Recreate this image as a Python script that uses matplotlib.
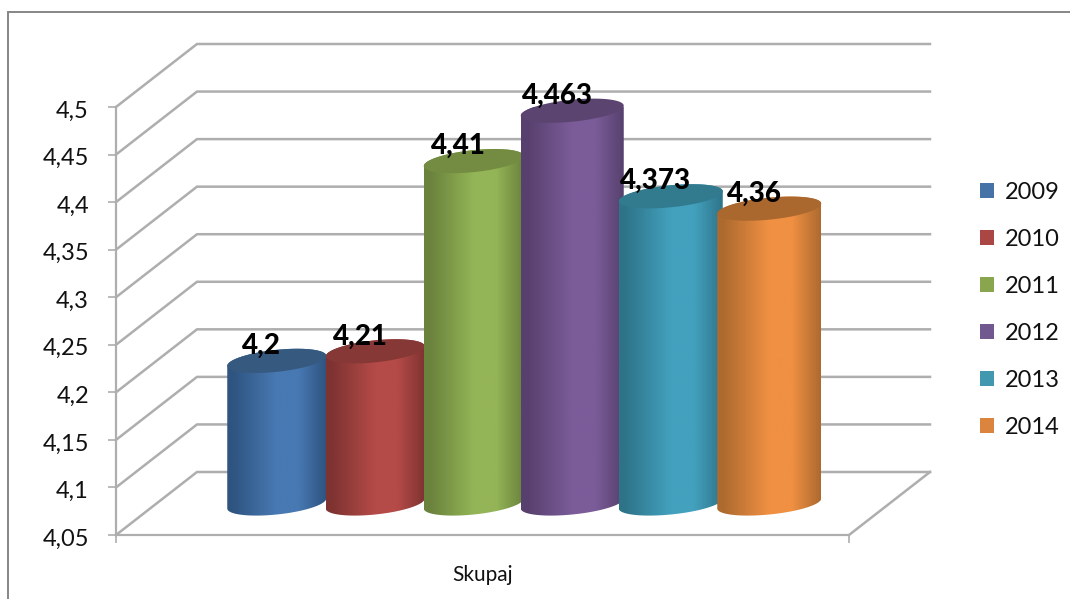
import numpy as np
import matplotlib
matplotlib.use("Agg")
import matplotlib.pyplot as plt
from matplotlib.colors import LinearSegmentedColormap
from matplotlib.lines import Line2D
from matplotlib.patches import PathPatch, Patch
from matplotlib.path import Path
from matplotlib.transforms import Affine2D

plt.rcParams['font.family'] = ['Lato', 'DejaVu Sans']

# ---- data ----
category = "Skupaj"
years = ["2009", "2010", "2011", "2012", "2013", "2014"]
values = [4.2, 4.21, 4.41, 4.463, 4.373, 4.36]
value_labels = ["4,2", "4,21", "4,41", "4,463", "4,373", "4,36"]
y_ticks = [4.05, 4.1, 4.15, 4.2, 4.25, 4.3, 4.35, 4.4, 4.45, 4.5]
y_tick_labels = ["4,05", "4,1", "4,15", "4,2", "4,25", "4,3", "4,35", "4,4", "4,45", "4,5"]

# ---- styles ----
centre_cols = ["#4879B3", "#B54B48", "#94B557", "#7B5C99", "#43A1BE", "#F09043"]
edge_cols = ["#2F5480", "#7E3331", "#6A823C", "#57406E", "#2E7489", "#AD6A2F"]
top_cols = ["#36597F", "#853836", "#748C42", "#5B446F", "#327A8E", "#AA672E"]
legend_cols = ["#4573A7", "#AA4644", "#89A54E", "#71588F", "#4298AF", "#DB843D"]
half_widths = [49.5, 49.5, 50, 51.5, 52, 52]
GRID = "#AEAEAE"
TXT = "#111111"

W, H = 1070, 599
fig = plt.figure(figsize=(W / 100, H / 100), dpi=100, facecolor="white")

# front plane of the 3-D box, in pixels
L, R, B, T = 116, 849, 535, 107
ax = fig.add_axes([L / W, 1 - B / H, (R - L) / W, (B - T) / H])
ax.set_xlim(-0.5, 0.5)
ax.set_ylim(y_ticks[0], y_ticks[-1])
ax.patch.set_alpha(0)

px_x = 1 / (R - L)                               # data units per pixel
px_y = (y_ticks[-1] - y_ticks[0]) / (B - T)
DEPTH_X, DEPTH_Y = 81, 63

for s in ("top", "right"):
    ax.spines[s].set_visible(False)
for s in ("left", "bottom"):
    ax.spines[s].set_color(GRID)
    ax.spines[s].set_linewidth(1.6)

ax.set_yticks(y_ticks)
ax.set_yticklabels(y_tick_labels, fontsize=17, color=TXT)
ax.tick_params(axis="y", length=6, width=1.2, color=GRID, pad=13.5)
ax.set_xticks([0])
ax.set_xticklabels([category], fontsize=15, color=TXT)
ax.tick_params(axis="x", which="major", length=0, pad=21.5)
ax.set_xticks([-0.5, 0.5], minor=True)
ax.tick_params(axis="x", which="minor", length=6, width=1.2, color=GRID)
for lab in ax.get_yticklabels():
    lab.set_transform(lab.get_transform() + Affine2D().translate(0, -2))

# wall and floor gridlines
dx, dy = DEPTH_X * px_x, DEPTH_Y * px_y
xg0, xg1 = ax.get_xlim()
for v in y_ticks:
    ax.plot([xg0, xg0 + dx, xg1 + dx], [v, v + dy, v + dy], color=GRID, lw=1.8,
            clip_on=False, zorder=1, solid_joinstyle="miter")
ax.plot([xg1, xg1 + dx], [y_ticks[0], y_ticks[0] + dy], color=GRID, lw=1.8, clip_on=False, zorder=1)

# cylinders
n = len(values)
STEP = 98.5 * px_x
BB = 11.0
SHEAR = 5.0
t_low = np.linspace(np.pi, 2 * np.pi, 60)
t_up = np.linspace(0, np.pi, 60)
t_all = np.linspace(0, 2 * np.pi, 120)
y0 = y_ticks[0] + DEPTH_Y / 2 * px_y
xc0 = DEPTH_X / 2 * px_x

for i, v in enumerate(values):
    xc = xc0 + (i - (n - 1) / 2) * STEP
    a = half_widths[i]
    top_y = v + DEPTH_Y / 2 * px_y

    def ex(t):
        return xc + a * np.cos(t) * px_x

    def ey(t, base):
        return base + (BB * np.sin(t) + SHEAR * np.cos(t)) * px_y

    xs = np.r_[ex(t_low), ex(t_up)]
    ys = np.r_[ey(t_low, y0), ey(t_up, top_y)]
    body = PathPatch(Path(np.c_[xs, ys]), facecolor="none", edgecolor="none",
                     zorder=3 + i * 2, clip_on=False)
    ax.add_patch(body)
    cmap = LinearSegmentedColormap.from_list(
        f"c{i}", [(0, edge_cols[i]), (0.06, edge_cols[i]), (0.5, centre_cols[i]),
                  (0.72, centre_cols[i]), (1, edge_cols[i])])
    im = ax.imshow(np.linspace(0, 1, 256)[None, :], cmap=cmap, aspect="auto",
                   extent=[xc - a * px_x, xc + a * px_x, y0 - 20 * px_y, top_y + 20 * px_y],
                   zorder=3 + i * 2, interpolation="bilinear")
    im.set_clip_path(body)
    cap = PathPatch(Path(np.c_[ex(t_all), ey(t_all, top_y)]), facecolor=top_cols[i],
                    edgecolor="none", zorder=4 + i * 2, clip_on=False)
    ax.add_patch(cap)
    ax.annotate(value_labels[i], (xc, top_y), xytext=(-15, 15), textcoords="offset pixels",
                ha="center", va="center", fontsize=20, fontweight="black", color="black",
                zorder=30, annotation_clip=False)

ax.set_xlim(-0.5, 0.5)
ax.set_ylim(y_ticks[0], y_ticks[-1])

# legend
handles = [Patch(facecolor=c, edgecolor="none", label=y) for c, y in zip(legend_cols, years)]
fig.legend(handles=handles, loc="center left", bbox_to_anchor=(980 / W, 1 - 310 / H),
           frameon=False, fontsize=17, labelcolor=TXT, borderpad=0, borderaxespad=0,
           handlelength=0.6, handleheight=0.6, handletextpad=0.46, labelspacing=1.1)

# chart-area border (runs off the right and bottom edges)
fig.add_artist(Line2D([8 / W, 8 / W, 1], [0, 1 - 12 / H, 1 - 12 / H], color="#868686", lw=1.4,
                      transform=fig.transFigure, solid_joinstyle="miter"))

fig.savefig("out.png", dpi=100)
